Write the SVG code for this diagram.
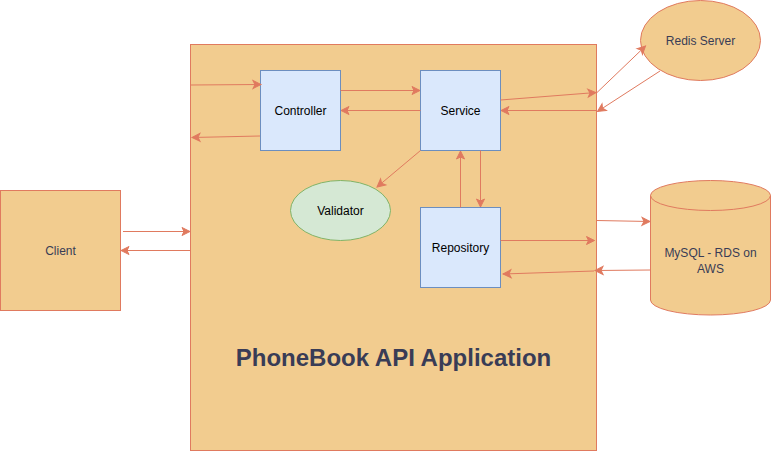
<svg xmlns="http://www.w3.org/2000/svg" width="771" height="451" viewBox="0 0 771 451">
<defs>
<marker id="arr" markerUnits="userSpaceOnUse" markerWidth="10" markerHeight="10" refX="8" refY="4" orient="auto" overflow="visible">
<path d="M0,0 L8,4 L0,8 L2,4 Z" fill="#E07A5F" stroke="#E07A5F" stroke-width="1"/>
</marker>
</defs>
<style>
.c{fill:#F2CC8F;stroke:#E07A5F;stroke-width:1}
.b{fill:#dae8fc;stroke:#6c8ebf;stroke-width:1}
.g{fill:#d5e8d4;stroke:#82b366;stroke-width:1}
.t{font-family:"Liberation Sans",Arial,sans-serif;font-size:12px;text-anchor:middle;fill:#000}
.d{fill:#393C56}
.e{fill:none;stroke:#E07A5F;stroke-width:1;marker-end:url(#arr)}
</style>
<rect width="771" height="451" fill="#ffffff"/>
<g id="app">
<rect class="c" x="190.5" y="44.5" width="406" height="406"/>
<text class="t d" x="393.5" y="366" style="font-size:24px;font-weight:bold">PhoneBook API Application</text>
</g>
<g id="client">
<rect class="c" x="0.5" y="190.5" width="120" height="120"/>
<text class="t d" x="60.5" y="254.5">Client</text>
</g>
<g id="redis">
<ellipse class="c" cx="700.5" cy="40.5" rx="60" ry="40"/>
<text class="t d" x="700.5" y="44.5">Redis Server</text>
</g>
<g id="mysql">
<path class="c" d="M650.5,195.5 A60,15 0 0 1 770.5,195.5 L770.5,300 A60,15 0 0 1 650.5,300 Z"/>
<path d="M650.5,195.5 A60,15 0 0 0 770.5,195.5" fill="none" stroke="#E07A5F" stroke-width="1"/>
<text class="t d" x="710.5" y="256.5">MySQL - RDS on</text>
<text class="t d" x="710.5" y="272.5">AWS</text>
</g>
<g id="controller">
<rect class="b" x="260.5" y="70.5" width="80" height="80"/>
<text class="t" x="300.5" y="114.5">Controller</text>
</g>
<g id="service">
<rect class="b" x="420.5" y="70.5" width="80" height="80"/>
<text class="t" x="460.5" y="114.5">Service</text>
</g>
<g id="repository">
<rect class="b" x="420.5" y="207.5" width="80" height="80"/>
<text class="t" x="460.5" y="251.5">Repository</text>
</g>
<g id="validator">
<ellipse class="g" cx="340.5" cy="210.5" rx="50" ry="30"/>
<text class="t" x="340.5" y="214.5">Validator</text>
</g>
<g id="connectors">
<path class="e" d="M190.5,85 L261,84.5"/>
<path class="e" d="M260,136 L192,137.5"/>
<path class="e" d="M340.5,90.5 L420,90.5"/>
<path class="e" d="M420.5,110.5 L341,110.5"/>
<path class="e" d="M500.5,100 L596,92.5"/>
<path class="e" d="M596.5,110.5 L501,110.5"/>
<path class="e" d="M596.5,93 L645.5,46"/>
<path class="e" d="M660,71 L597.5,111.5"/>
<path class="e" d="M420.5,150.5 L377,187"/>
<path class="e" d="M460.5,207.5 L460.5,151"/>
<path class="e" d="M480.5,150.5 L480.5,207"/>
<path class="e" d="M500.5,240.5 L594.5,240.5"/>
<path class="e" d="M594,271 L503,274"/>
<path class="e" d="M596.5,220.5 L650,221.5"/>
<path class="e" d="M650.5,270 L595,270.5"/>
<path class="e" d="M123,231.5 L190,231.5"/>
<path class="e" d="M190.5,250.5 L121,250.5"/>
</g>
</svg>
